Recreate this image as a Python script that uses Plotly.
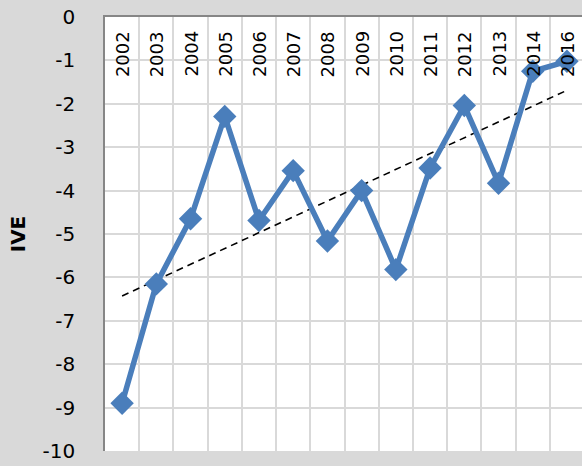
import numpy as np
import plotly.graph_objects as go

years = ["2002", "2003", "2004", "2005", "2006", "2007", "2008", "2009",
         "2010", "2011", "2012", "2013", "2014", "2016"]
ive = [-8.9, -6.15, -4.65, -2.29, -4.69, -3.54, -5.16, -4.0,
       -5.82, -3.48, -2.04, -3.83, -1.25, -1.02]
y_ticks = [0, -1, -2, -3, -4, -5, -6, -7, -8, -9, -10]

idx = np.arange(len(years))
slope, intercept = np.polyfit(idx, ive, 1)
trend = [slope * i + intercept for i in idx]

FONT = "DejaVu Sans"

fig = go.Figure()
fig.add_trace(go.Scatter(
    x=years, y=trend, mode="lines",
    line=dict(color="black", width=1.6, dash="7px,5px"),
    hoverinfo="skip", showlegend=False))
fig.add_trace(go.Scatter(
    x=years, y=ive, mode="lines+markers",
    line=dict(color="#4a7ebb", width=5.5),
    marker=dict(symbol="diamond", size=18, color="#4a7ebb"),
    showlegend=False))

for i, yr in enumerate(years):
    fig.add_annotation(
        x=i, xref="x", y=1, yref="paper", yanchor="top", yshift=-12,
        text=yr, textangle=-90, showarrow=False,
        font=dict(size=18, family=FONT, color="black"))

fig.update_layout(
    width=582, height=466,
    margin=dict(l=105, r=0, t=17, b=15),
    paper_bgcolor="#d9d9d9", plot_bgcolor="white",
    font=dict(family=FONT, color="black"),
    xaxis=dict(
        type="category", side="top", range=[-0.5, 13.44],
        showticklabels=False,
        tickson="boundaries", ticks="", showgrid=True,
        gridcolor="#d9d9d9", gridwidth=1.5,
        showline=True, linecolor="#868686", linewidth=1.5,
    ),
    yaxis=dict(
        range=[-10, 0], tickvals=y_ticks, ticktext=[str(v) for v in y_ticks],
        showgrid=True, gridcolor="#d9d9d9", gridwidth=1.5, zeroline=False,
        showline=True, linecolor="#868686", linewidth=1.5,
        ticks="", ticklabelstandoff=24,
        tickfont=dict(size=20, family=FONT),
        title=dict(text="<b>IVE</b>", font=dict(size=20, family=FONT), standoff=12),
    ),
)

fig.write_html("out.html", config={"displayModeBar": False},
               post_script="document.body.style.margin='0';document.body.style.overflow='hidden';")
